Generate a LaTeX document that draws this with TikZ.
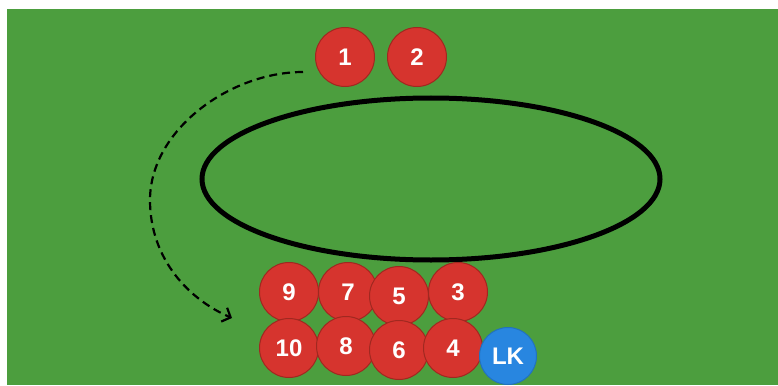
\documentclass[tikz,border=0pt]{standalone}
\usepackage{fontspec}
\setmainfont{Liberation Sans}
\usetikzlibrary{arrows.meta}
\definecolor{pitch}{RGB}{76,158,62}
\definecolor{pfill}{RGB}{214,52,46}
\definecolor{pline}{RGB}{160,40,32}
\definecolor{lkblue}{RGB}{40,134,224}
\tikzset{
  player/.style={circle,draw=pline,line width=1pt,fill=pfill,minimum size=59pt,inner sep=0pt,text=white,font=\bfseries\fontsize{24}{24}\selectfont},
  keeper/.style={player,draw=lkblue!85!black,fill=lkblue},
  run/.style={dashed,dash pattern=on 8pt off 5pt,line width=2.2pt,black},
}
\begin{document}
\begin{tikzpicture}[x=1pt,y=-1pt]
\useasboundingbox (0,0) rectangle (778,385);
\fill[white] (0,0) rectangle (778,385);
\fill[pitch] (7,9) rectangle (778,385);
\draw[line width=5pt] (431,179) ellipse [x radius=229, y radius=81];
\node[player] (p1) at (345,57) {1};
\node[player] (p2) at (417,57) {2};
\node[player] (p9) at (289,292) {9};
\node[player] (p10) at (289,348) {10};
\node[player] (p7) at (348,292) {7};
\node[player] (p8) at (346,346) {8};
\node[player] (p5) at (399,296) {5};
\node[player] (p6) at (399,350) {6};
\node[player] (p3) at (458,292) {3};
\node[player] (p4) at (453,348) {4};
\node[keeper,minimum size=57pt] (lk) at (508,356) {LK};
\coordinate (rs) at (303,72);
\coordinate (rm) at (150,200);
\coordinate (re) at (232,318);
\draw[run,-{Straight Barb[length=7pt,width=15pt,line width=2.2pt]}] (rs) .. controls (230,72) and (150,130) .. (rm) .. controls (150,260) and (190,300) .. (re);
\end{tikzpicture}
\end{document}
